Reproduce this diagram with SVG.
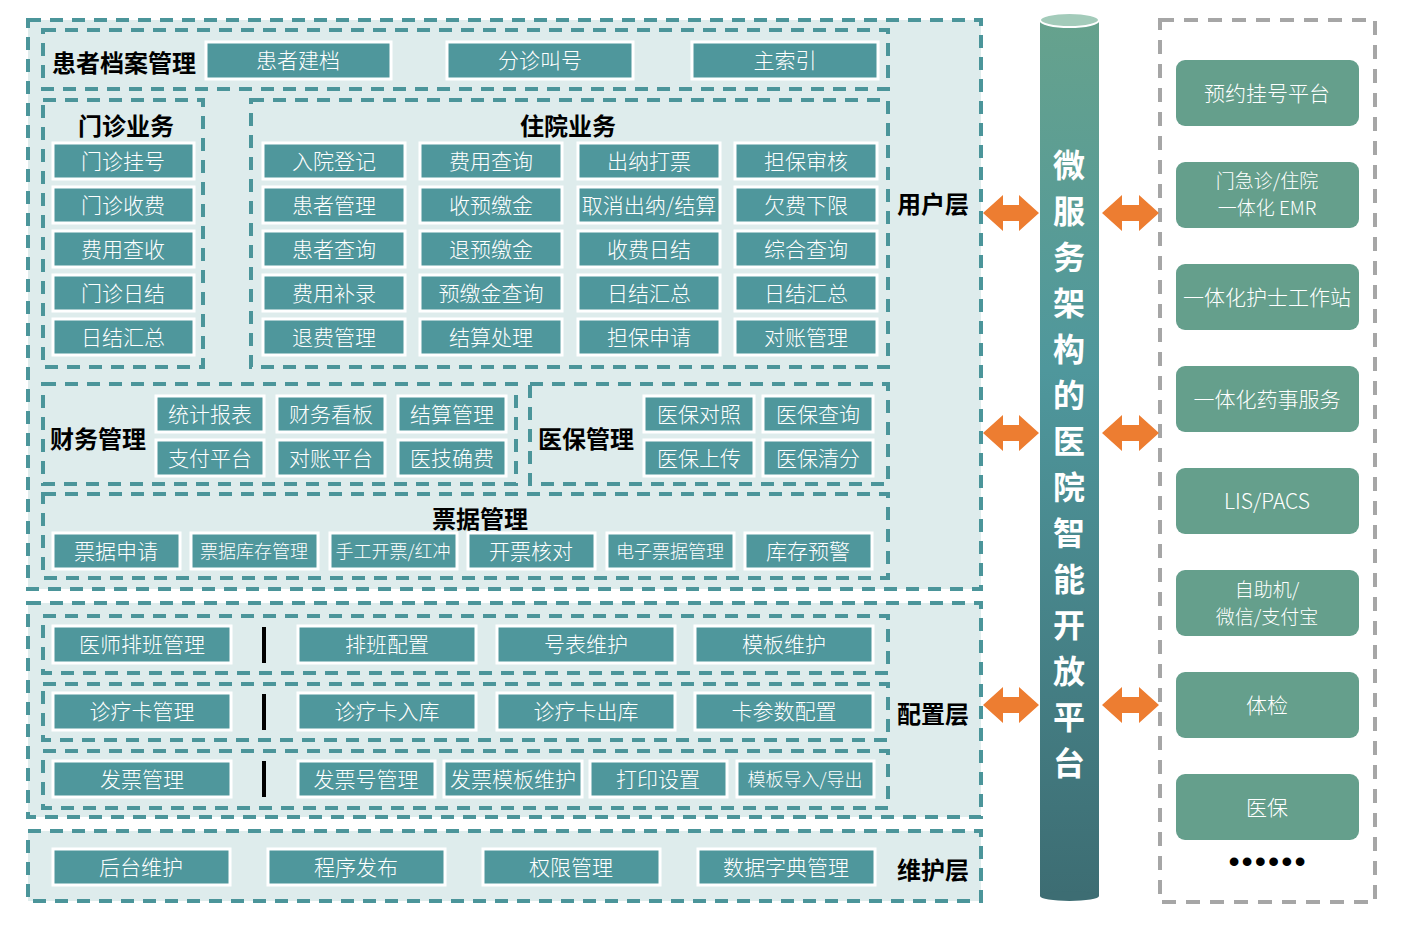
<svg xmlns="http://www.w3.org/2000/svg" width="1415" height="932" viewBox="0 0 1415 932">
<defs>
<style>
.bg{fill:#deecec;stroke:#4b959a;stroke-width:4;stroke-dasharray:13 9}
.grp{fill:none;stroke:#4b959a;stroke-width:4;stroke-dasharray:13 9}
.b{fill:#4f979c;stroke:#ffffff;stroke-width:3}
.t{font-family:"Noto Sans CJK SC","Liberation Sans",sans-serif;font-size:21px;font-weight:300;fill:#ffffff;text-anchor:middle}
.s{font-size:18px}
.m{font-size:19px}
.h{font-family:"Noto Sans CJK SC","Liberation Sans",sans-serif;font-size:24px;font-weight:bold;fill:#000000}
.hc{text-anchor:middle}
.r{fill:#659f8c}
.bar{fill:#000000}
.arr{fill:#ed7d31}
.cy{font-family:"Noto Sans CJK SC","Liberation Sans",sans-serif;font-size:32px;font-weight:bold;fill:#ffffff;text-anchor:middle}
</style>
<linearGradient id="cg" x1="0" y1="0" x2="0" y2="1">
<stop offset="0" stop-color="#66a28d"/>
<stop offset="0.4" stop-color="#4f979c"/>
<stop offset="1" stop-color="#3d6d73"/>
</linearGradient>
</defs>
<rect width="1415" height="932" fill="#ffffff"/>

<g id="user-layer">
<rect class="bg" x="28" y="20" width="953" height="569"/>
<text class="h" x="933" y="213" text-anchor="middle">用户层</text>
</g>

<g id="patient-archive">
<rect class="grp" x="43" y="30" width="845" height="59"/>
<text class="h" x="52" y="72">患者档案管理</text>
<rect class="b" x="206" y="42" width="185" height="37"/><text class="t" x="298" y="68">患者建档</text>
<rect class="b" x="447" y="42" width="186" height="37"/><text class="t" x="540" y="68">分诊叫号</text>
<rect class="b" x="692" y="42" width="186" height="37"/><text class="t" x="785" y="68">主索引</text>
</g>

<g id="outpatient">
<rect class="grp" x="43" y="100" width="160" height="267"/>
<text class="h hc" x="126" y="135">门诊业务</text>
<rect class="b" x="53" y="143" width="141" height="36"/><text class="t" x="123" y="169">门诊挂号</text>
<rect class="b" x="53" y="187" width="141" height="36"/><text class="t" x="123" y="213">门诊收费</text>
<rect class="b" x="53" y="231" width="141" height="36"/><text class="t" x="123" y="257">费用查收</text>
<rect class="b" x="53" y="275" width="141" height="36"/><text class="t" x="123" y="301">门诊日结</text>
<rect class="b" x="53" y="319" width="141" height="36"/><text class="t" x="123" y="345">日结汇总</text>
</g>

<g id="inpatient">
<rect class="grp" x="251" y="100" width="637" height="267"/>
<text class="h hc" x="568" y="135">住院业务</text>
<rect class="b" x="263" y="143" width="142" height="36"/><text class="t" x="334" y="169">入院登记</text>
<rect class="b" x="420" y="143" width="142" height="36"/><text class="t" x="491" y="169">费用查询</text>
<rect class="b" x="578" y="143" width="142" height="36"/><text class="t" x="649" y="169">出纳打票</text>
<rect class="b" x="735" y="143" width="142" height="36"/><text class="t" x="806" y="169">担保审核</text>
<rect class="b" x="263" y="187" width="142" height="36"/><text class="t" x="334" y="213">患者管理</text>
<rect class="b" x="420" y="187" width="142" height="36"/><text class="t" x="491" y="213">收预缴金</text>
<rect class="b" x="578" y="187" width="142" height="36"/><text class="t" x="649" y="213">取消出纳/结算</text>
<rect class="b" x="735" y="187" width="142" height="36"/><text class="t" x="806" y="213">欠费下限</text>
<rect class="b" x="263" y="231" width="142" height="36"/><text class="t" x="334" y="257">患者查询</text>
<rect class="b" x="420" y="231" width="142" height="36"/><text class="t" x="491" y="257">退预缴金</text>
<rect class="b" x="578" y="231" width="142" height="36"/><text class="t" x="649" y="257">收费日结</text>
<rect class="b" x="735" y="231" width="142" height="36"/><text class="t" x="806" y="257">综合查询</text>
<rect class="b" x="263" y="275" width="142" height="36"/><text class="t" x="334" y="301">费用补录</text>
<rect class="b" x="420" y="275" width="142" height="36"/><text class="t" x="491" y="301">预缴金查询</text>
<rect class="b" x="578" y="275" width="142" height="36"/><text class="t" x="649" y="301">日结汇总</text>
<rect class="b" x="735" y="275" width="142" height="36"/><text class="t" x="806" y="301">日结汇总</text>
<rect class="b" x="263" y="319" width="142" height="36"/><text class="t" x="334" y="345">退费管理</text>
<rect class="b" x="420" y="319" width="142" height="36"/><text class="t" x="491" y="345">结算处理</text>
<rect class="b" x="578" y="319" width="142" height="36"/><text class="t" x="649" y="345">担保申请</text>
<rect class="b" x="735" y="319" width="142" height="36"/><text class="t" x="806" y="345">对账管理</text>
</g>

<g id="finance">
<rect class="grp" x="43" y="384" width="473" height="100"/>
<text class="h" x="50" y="448">财务管理</text>
<rect class="b" x="156" y="396" width="108" height="36"/><text class="t" x="210" y="422">统计报表</text>
<rect class="b" x="277" y="396" width="108" height="36"/><text class="t" x="331" y="422">财务看板</text>
<rect class="b" x="398" y="396" width="108" height="36"/><text class="t" x="452" y="422">结算管理</text>
<rect class="b" x="156" y="440" width="108" height="36"/><text class="t" x="210" y="466">支付平台</text>
<rect class="b" x="277" y="440" width="108" height="36"/><text class="t" x="331" y="466">对账平台</text>
<rect class="b" x="398" y="440" width="108" height="36"/><text class="t" x="452" y="466">医技确费</text>
</g>

<g id="medical-insurance">
<rect class="grp" x="530" y="384" width="358" height="100"/>
<text class="h" x="538" y="448">医保管理</text>
<rect class="b" x="644" y="396" width="110" height="36"/><text class="t" x="699" y="422">医保对照</text>
<rect class="b" x="763" y="396" width="110" height="36"/><text class="t" x="818" y="422">医保查询</text>
<rect class="b" x="644" y="440" width="110" height="36"/><text class="t" x="699" y="466">医保上传</text>
<rect class="b" x="763" y="440" width="110" height="36"/><text class="t" x="818" y="466">医保清分</text>
</g>

<g id="ticket">
<rect class="grp" x="43" y="494" width="845" height="84"/>
<text class="h hc" x="480" y="528">票据管理</text>
<rect class="b" x="53" y="533" width="127" height="36"/><text class="t" x="116" y="559">票据申请</text>
<rect class="b" x="191" y="533" width="127" height="36"/><text class="t s" x="254" y="558">票据库存管理</text>
<rect class="b" x="330" y="533" width="127" height="36"/><text class="t s" x="393" y="558">手工开票/红冲</text>
<rect class="b" x="468" y="533" width="127" height="36"/><text class="t" x="531" y="559">开票核对</text>
<rect class="b" x="607" y="533" width="127" height="36"/><text class="t s" x="670" y="558">电子票据管理</text>
<rect class="b" x="745" y="533" width="127" height="36"/><text class="t" x="808" y="559">库存预警</text>
</g>

<g id="config-layer">
<rect class="bg" x="28" y="603" width="953" height="214"/>
<text class="h" x="933" y="723" text-anchor="middle">配置层</text>
</g>

<g id="schedule">
<rect class="grp" x="43" y="616" width="845" height="57"/>
<rect class="b" x="53" y="626" width="178" height="37"/><text class="t" x="142" y="652">医师排班管理</text>
<rect class="bar" x="262" y="627" width="4" height="36"/>
<rect class="b" x="298" y="626" width="178" height="37"/><text class="t" x="387" y="652">排班配置</text>
<rect class="b" x="497" y="626" width="178" height="37"/><text class="t" x="586" y="652">号表维护</text>
<rect class="b" x="695" y="626" width="178" height="37"/><text class="t" x="784" y="652">模板维护</text>
</g>

<g id="card">
<rect class="grp" x="43" y="684" width="845" height="56"/>
<rect class="b" x="53" y="693" width="178" height="37"/><text class="t" x="142" y="719">诊疗卡管理</text>
<rect class="bar" x="262" y="694" width="4" height="36"/>
<rect class="b" x="298" y="693" width="178" height="37"/><text class="t" x="387" y="719">诊疗卡入库</text>
<rect class="b" x="497" y="693" width="178" height="37"/><text class="t" x="586" y="719">诊疗卡出库</text>
<rect class="b" x="695" y="693" width="178" height="37"/><text class="t" x="784" y="719">卡参数配置</text>
</g>

<g id="invoice">
<rect class="grp" x="43" y="751" width="845" height="57"/>
<rect class="b" x="53" y="761" width="178" height="36"/><text class="t" x="142" y="787">发票管理</text>
<rect class="bar" x="262" y="761" width="4" height="36"/>
<rect class="b" x="298" y="761" width="137" height="36"/><text class="t" x="366" y="787">发票号管理</text>
<rect class="b" x="444" y="761" width="138" height="36"/><text class="t" x="513" y="787">发票模板维护</text>
<rect class="b" x="590" y="761" width="137" height="36"/><text class="t" x="658" y="787">打印设置</text>
<rect class="b" x="737" y="761" width="137" height="36"/><text class="t s" x="805" y="786">模板导入/导出</text>
</g>

<g id="maintenance-layer">
<rect class="bg" x="28" y="831" width="953" height="70"/>
<text class="h" x="933" y="879" text-anchor="middle">维护层</text>
<rect class="b" x="53" y="849" width="177" height="36"/><text class="t" x="141" y="875">后台维护</text>
<rect class="b" x="268" y="849" width="177" height="36"/><text class="t" x="356" y="875">程序发布</text>
<rect class="b" x="483" y="849" width="177" height="36"/><text class="t" x="571" y="875">权限管理</text>
<rect class="b" x="698" y="849" width="177" height="36"/><text class="t" x="786" y="875">数据字典管理</text>
</g>

<g id="platform">
<rect x="1040" y="20" width="59" height="876" fill="url(#cg)"/>
<ellipse cx="1069.5" cy="896" rx="29.5" ry="5" fill="#3d6d73"/>
<ellipse cx="1069.5" cy="20" rx="29.5" ry="7" fill="#a3cbba" stroke="#ffffff" stroke-width="2"/>
<text class="cy" x="1069" y="177">微</text>
<text class="cy" x="1069" y="223">服</text>
<text class="cy" x="1069" y="269">务</text>
<text class="cy" x="1069" y="315">架</text>
<text class="cy" x="1069" y="361">构</text>
<text class="cy" x="1069" y="407">的</text>
<text class="cy" x="1069" y="453">医</text>
<text class="cy" x="1069" y="499">院</text>
<text class="cy" x="1069" y="545">智</text>
<text class="cy" x="1069" y="591">能</text>
<text class="cy" x="1069" y="637">开</text>
<text class="cy" x="1069" y="683">放</text>
<text class="cy" x="1069" y="729">平</text>
<text class="cy" x="1069" y="775">台</text>
</g>

<g id="external">
<rect x="1160" y="20" width="215" height="882" fill="none" stroke="#a6a6a6" stroke-width="4" stroke-dasharray="14 10"/>
<rect class="r" x="1176" y="60" width="183" height="66" rx="9"/><text class="t" x="1267" y="101">预约挂号平台</text>
<rect class="r" x="1176" y="162" width="183" height="66" rx="9"/><text class="t m" x="1267" y="188">门急诊/住院</text><text class="t m" x="1267" y="215">一体化 EMR</text>
<rect class="r" x="1176" y="264" width="183" height="66" rx="9"/><text class="t" x="1267" y="305">一体化护士工作站</text>
<rect class="r" x="1176" y="366" width="183" height="66" rx="9"/><text class="t" x="1267" y="407">一体化药事服务</text>
<rect class="r" x="1176" y="468" width="183" height="66" rx="9"/><text class="t" x="1267" y="509">LIS/PACS</text>
<rect class="r" x="1176" y="570" width="183" height="66" rx="9"/><text class="t m" x="1267" y="597">自助机/</text><text class="t m" x="1267" y="624">微信/支付宝</text>
<rect class="r" x="1176" y="672" width="183" height="66" rx="9"/><text class="t" x="1267" y="713">体检</text>
<rect class="r" x="1176" y="774" width="183" height="66" rx="9"/><text class="t" x="1267" y="815">医保</text>
<text x="1268" y="872" font-family="Liberation Sans, sans-serif" font-size="32" letter-spacing="2" fill="#000000" text-anchor="middle">••••••</text>
</g>

<g id="connectors">
<polygon class="arr" points="983,213 1003,195 1003,205 1019,205 1019,195 1039,213 1019,231 1019,221 1003,221 1003,231"/>
<polygon class="arr" points="1102,213 1122,195 1122,205 1139,205 1139,195 1159,213 1139,231 1139,221 1122,221 1122,231"/>
<polygon class="arr" points="983,433 1003,415 1003,425 1019,425 1019,415 1039,433 1019,451 1019,441 1003,441 1003,451"/>
<polygon class="arr" points="1102,433 1122,415 1122,425 1139,425 1139,415 1159,433 1139,451 1139,441 1122,441 1122,451"/>
<polygon class="arr" points="983,705 1003,687 1003,697 1019,697 1019,687 1039,705 1019,723 1019,713 1003,713 1003,723"/>
<polygon class="arr" points="1102,705 1122,687 1122,697 1139,697 1139,687 1159,705 1139,723 1139,713 1122,713 1122,723"/>
</g>
</svg>
